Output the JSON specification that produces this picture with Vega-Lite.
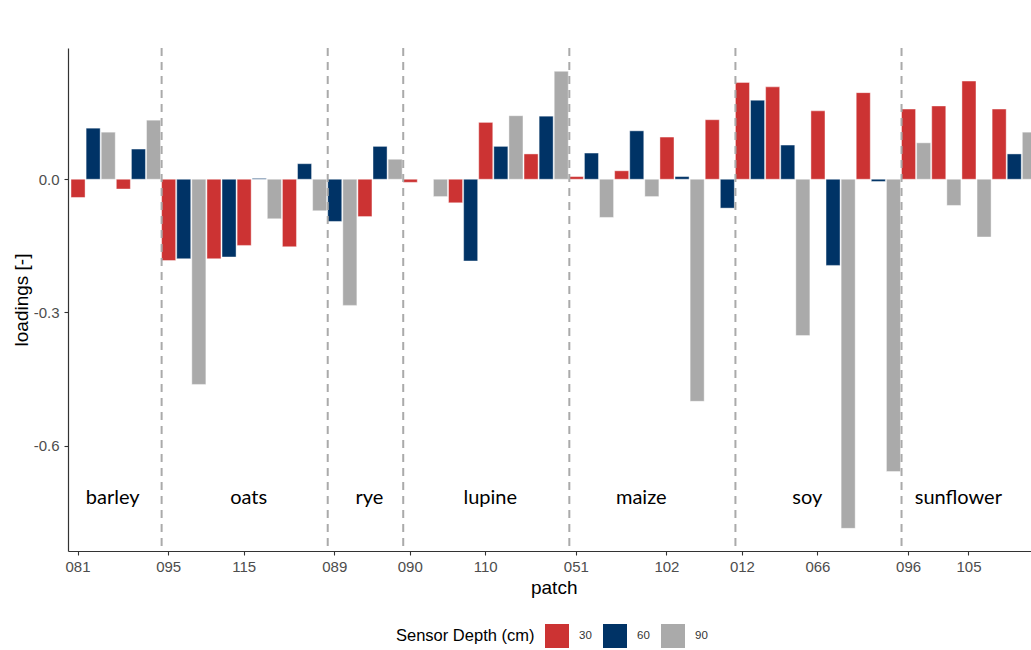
{
  "$schema": "https://vega.github.io/schema/vega-lite/v6.json",
  "width": 963,
  "height": 503,
  "autosize": "none",
  "padding": {"left": 68, "top": 48, "right": 0, "bottom": 99},
  "background": "white",
  "config": {
    "view": {"stroke": null},
    "font": "Liberation Sans",
    "axis": {"grid": false, "domainColor": "#333333", "domainWidth": 1.2, "tickColor": "#333333", "tickWidth": 1.1, "tickSize": 4, "labelColor": "#4D4D4D", "labelFontSize": 15, "labelFont": "Liberation Sans", "titleFont": "Liberation Sans", "titleFontSize": 19, "titleFontWeight": "normal", "titleColor": "black"}
  },
  "datasets": {
    "bars": [
      {"id": "081/30", "patch": "081", "crop": "barley", "depth": "30", "loading": -0.041},
      {"id": "081/60", "patch": "081", "crop": "barley", "depth": "60", "loading": 0.115},
      {"id": "081/90", "patch": "081", "crop": "barley", "depth": "90", "loading": 0.106},
      {"id": "barley_2/30", "patch": "barley_2", "crop": "barley", "depth": "30", "loading": -0.022},
      {"id": "barley_2/60", "patch": "barley_2", "crop": "barley", "depth": "60", "loading": 0.068},
      {"id": "barley_2/90", "patch": "barley_2", "crop": "barley", "depth": "90", "loading": 0.133},
      {"id": "095/30", "patch": "095", "crop": "oats", "depth": "30", "loading": -0.183},
      {"id": "095/60", "patch": "095", "crop": "oats", "depth": "60", "loading": -0.179},
      {"id": "095/90", "patch": "095", "crop": "oats", "depth": "90", "loading": -0.462},
      {"id": "oats_2/30", "patch": "oats_2", "crop": "oats", "depth": "30", "loading": -0.179},
      {"id": "oats_2/60", "patch": "oats_2", "crop": "oats", "depth": "60", "loading": -0.175},
      {"id": "115/30", "patch": "115", "crop": "oats", "depth": "30", "loading": -0.149},
      {"id": "115/60", "patch": "115", "crop": "oats", "depth": "60", "loading": 0.002},
      {"id": "115/90", "patch": "115", "crop": "oats", "depth": "90", "loading": -0.089},
      {"id": "oats_4/30", "patch": "oats_4", "crop": "oats", "depth": "30", "loading": -0.152},
      {"id": "oats_4/60", "patch": "oats_4", "crop": "oats", "depth": "60", "loading": 0.035},
      {"id": "oats_4/90", "patch": "oats_4", "crop": "oats", "depth": "90", "loading": -0.071},
      {"id": "089/60", "patch": "089", "crop": "rye", "depth": "60", "loading": -0.095},
      {"id": "089/90", "patch": "089", "crop": "rye", "depth": "90", "loading": -0.284},
      {"id": "rye_2/30", "patch": "rye_2", "crop": "rye", "depth": "30", "loading": -0.084},
      {"id": "rye_2/60", "patch": "rye_2", "crop": "rye", "depth": "60", "loading": 0.074},
      {"id": "rye_2/90", "patch": "rye_2", "crop": "rye", "depth": "90", "loading": 0.045},
      {"id": "090/30", "patch": "090", "crop": "lupine", "depth": "30", "loading": -0.007},
      {"id": "090/60", "patch": "090", "crop": "lupine", "depth": "60", "loading": 0.0},
      {"id": "090/90", "patch": "090", "crop": "lupine", "depth": "90", "loading": -0.039},
      {"id": "lupine_2/30", "patch": "lupine_2", "crop": "lupine", "depth": "30", "loading": -0.053},
      {"id": "lupine_2/60", "patch": "lupine_2", "crop": "lupine", "depth": "60", "loading": -0.184},
      {"id": "110/30", "patch": "110", "crop": "lupine", "depth": "30", "loading": 0.128},
      {"id": "110/60", "patch": "110", "crop": "lupine", "depth": "60", "loading": 0.074},
      {"id": "110/90", "patch": "110", "crop": "lupine", "depth": "90", "loading": 0.143},
      {"id": "lupine_4/30", "patch": "lupine_4", "crop": "lupine", "depth": "30", "loading": 0.057},
      {"id": "lupine_4/60", "patch": "lupine_4", "crop": "lupine", "depth": "60", "loading": 0.142},
      {"id": "lupine_4/90", "patch": "lupine_4", "crop": "lupine", "depth": "90", "loading": 0.243},
      {"id": "051/30", "patch": "051", "crop": "maize", "depth": "30", "loading": 0.006},
      {"id": "051/60", "patch": "051", "crop": "maize", "depth": "60", "loading": 0.059},
      {"id": "051/90", "patch": "051", "crop": "maize", "depth": "90", "loading": -0.086},
      {"id": "maize_2/30", "patch": "maize_2", "crop": "maize", "depth": "30", "loading": 0.019},
      {"id": "maize_2/60", "patch": "maize_2", "crop": "maize", "depth": "60", "loading": 0.109},
      {"id": "maize_2/90", "patch": "maize_2", "crop": "maize", "depth": "90", "loading": -0.039},
      {"id": "102/30", "patch": "102", "crop": "maize", "depth": "30", "loading": 0.095},
      {"id": "102/60", "patch": "102", "crop": "maize", "depth": "60", "loading": 0.006},
      {"id": "102/90", "patch": "102", "crop": "maize", "depth": "90", "loading": -0.5},
      {"id": "maize_4/30", "patch": "maize_4", "crop": "maize", "depth": "30", "loading": 0.134},
      {"id": "maize_4/60", "patch": "maize_4", "crop": "maize", "depth": "60", "loading": -0.065},
      {"id": "012/30", "patch": "012", "crop": "soy", "depth": "30", "loading": 0.218},
      {"id": "012/60", "patch": "012", "crop": "soy", "depth": "60", "loading": 0.178},
      {"id": "soy_2/30", "patch": "soy_2", "crop": "soy", "depth": "30", "loading": 0.208},
      {"id": "soy_2/60", "patch": "soy_2", "crop": "soy", "depth": "60", "loading": 0.077},
      {"id": "soy_2/90", "patch": "soy_2", "crop": "soy", "depth": "90", "loading": -0.352},
      {"id": "066/30", "patch": "066", "crop": "soy", "depth": "30", "loading": 0.154},
      {"id": "066/60", "patch": "066", "crop": "soy", "depth": "60", "loading": -0.194},
      {"id": "066/90", "patch": "066", "crop": "soy", "depth": "90", "loading": -0.786},
      {"id": "soy_4/30", "patch": "soy_4", "crop": "soy", "depth": "30", "loading": 0.195},
      {"id": "soy_4/60", "patch": "soy_4", "crop": "soy", "depth": "60", "loading": -0.005},
      {"id": "soy_4/90", "patch": "soy_4", "crop": "soy", "depth": "90", "loading": -0.658},
      {"id": "096/30", "patch": "096", "crop": "sunflower", "depth": "30", "loading": 0.158},
      {"id": "096/90", "patch": "096", "crop": "sunflower", "depth": "90", "loading": 0.082},
      {"id": "sunflower_2/30", "patch": "sunflower_2", "crop": "sunflower", "depth": "30", "loading": 0.165},
      {"id": "sunflower_2/90", "patch": "sunflower_2", "crop": "sunflower", "depth": "90", "loading": -0.059},
      {"id": "105/30", "patch": "105", "crop": "sunflower", "depth": "30", "loading": 0.221},
      {"id": "105/90", "patch": "105", "crop": "sunflower", "depth": "90", "loading": -0.13},
      {"id": "sunflower_4/30", "patch": "sunflower_4", "crop": "sunflower", "depth": "30", "loading": 0.158},
      {"id": "sunflower_4/60", "patch": "sunflower_4", "crop": "sunflower", "depth": "60", "loading": 0.057},
      {"id": "sunflower_4/90", "patch": "sunflower_4", "crop": "sunflower", "depth": "90", "loading": 0.106}
    ],
    "boundaries": [
      {"first": "095/30"}, {"first": "089/60"}, {"first": "090/30"},
      {"first": "051/30"}, {"first": "012/30"}, {"first": "096/30"}
    ],
    "crops": [
      {"crop": "barley", "at": "081/90"},
      {"crop": "oats", "at": "115/30"},
      {"crop": "rye", "at": "rye_2/30"},
      {"crop": "lupine", "at": "110/30"},
      {"crop": "maize", "at": "maize_2/60"},
      {"crop": "soy", "at": "soy_2/90"},
      {"crop": "sunflower", "at": "sunflower_2/90"}
    ]
  },
  "encoding": {
    "x": {
      "type": "nominal",
      "scale": {
        "type": "band",
        "range": [0, 971.4],
        "paddingInner": 0.07,
        "paddingOuter": 0.2,
        "domain": ["081/30","081/60","081/90","barley_2/30","barley_2/60","barley_2/90","095/30","095/60","095/90","oats_2/30","oats_2/60","115/30","115/60","115/90","oats_4/30","oats_4/60","oats_4/90","089/60","089/90","rye_2/30","rye_2/60","rye_2/90","090/30","090/60","090/90","lupine_2/30","lupine_2/60","110/30","110/60","110/90","lupine_4/30","lupine_4/60","lupine_4/90","051/30","051/60","051/90","maize_2/30","maize_2/60","maize_2/90","102/30","102/60","102/90","maize_4/30","maize_4/60","012/30","012/60","soy_2/30","soy_2/60","soy_2/90","066/30","066/60","066/90","soy_4/30","soy_4/60","soy_4/90","096/30","096/90","sunflower_2/30","sunflower_2/90","105/30","105/90","sunflower_4/30","sunflower_4/60","sunflower_4/90"]
      },
      "axis": {
        "title": "patch",
        "values": ["081/30","095/30","115/30","089/60","090/30","110/30","051/30","102/30","012/30","066/30","096/30","105/30"],
        "labelExpr": "split(datum.value, '/')[0]",
        "labelAngle": 0,
        "labelPadding": 4,
        "titlePadding": 4
      }
    }
  },
  "layer": [
    {
      "data": {"name": "bars"},
      "mark": {"type": "bar", "stroke": "white", "strokeWidth": 0.6, "strokeOpacity": 0.7},
      "encoding": {
        "x": {"field": "id"},
        "y": {
          "field": "loading",
          "type": "quantitative",
          "scale": {"domain": [-0.837, 0.2955], "nice": false, "zero": false},
          "axis": {"title": "loadings [-]", "values": [-0.6, -0.3, 0], "format": ".1f", "labelExpr": "replace(datum.label, '\u2212', '-')", "labelPadding": 5, "titlePadding": 2}
        },
        "color": {
          "field": "depth",
          "type": "nominal",
          "scale": {"domain": ["30", "60", "90"], "range": ["#CC3333", "#003366", "#AAAAAA"]},
          "legend": {
            "title": "Sensor Depth (cm)",
            "orient": "none",
            "legendX": 328,
            "legendY": 576,
            "direction": "horizontal",
            "titleOrient": "left",
            "titleFontSize": 16.5,
            "titleFontWeight": "normal",
            "titleColor": "black",
            "titleFont": "Liberation Sans",
            "titlePadding": 10,
            "titleBaseline": "middle",
            "symbolType": "square",
            "symbolSize": 576,
            "symbolStrokeWidth": 0,
            "symbolOpacity": 1,
            "labelFontSize": 11.5,
            "labelFont": "Liberation Sans",
            "labelColor": "#333333",
            "labelOffset": 10,
            "columnPadding": 11,
            "padding": 0
          }
        }
      }
    },
    {
      "data": {"name": "boundaries"},
      "mark": {"type": "rule", "strokeDash": [8, 6], "stroke": "#AAAAAA", "strokeWidth": 2},
      "encoding": {
        "x": {"field": "first", "bandPosition": 0}
      }
    },
    {
      "data": {"name": "crops"},
      "mark": {"type": "text", "font": "Lato", "fontSize": 20, "color": "black", "baseline": "middle", "align": "center"},
      "encoding": {
        "x": {"field": "at", "bandPosition": 0.82},
        "y": {"datum": -0.717, "type": "quantitative"},
        "text": {"field": "crop"}
      }
    }
  ]
}
